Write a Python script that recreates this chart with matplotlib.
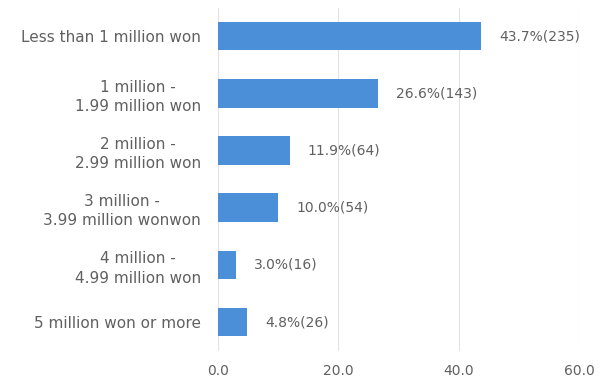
import matplotlib
matplotlib.use("Agg")
import matplotlib.pyplot as plt

categories = [
    "Less than 1 million won",
    "1 million -\n1.99 million won",
    "2 million -\n2.99 million won",
    "3 million -\n3.99 million wonwon",
    "4 million -\n4.99 million won",
    "5 million won or more",
]
percents = [43.7, 26.6, 11.9, 10.0, 3.0, 4.8]
counts = [235, 143, 64, 54, 16, 26]
xticks = [0, 20, 40, 60]

BAR_COLOR = "#4A8FD8"
TEXT_COLOR = "#606060"

fig = plt.figure(figsize=(6.07, 3.78), dpi=100)
ax = fig.add_axes([0.359, 0.0725, 0.595, 0.9075])

ypos = list(range(len(categories)))
ax.barh(ypos, percents, height=0.5, color=BAR_COLOR, zorder=3)

for y, p, c in zip(ypos, percents, counts):
    ax.text(p + 3.0, y, f"{p:.1f}%({c})", va="center", ha="left",
            fontsize=10, color=TEXT_COLOR)

ax.set_yticks(ypos)
ax.set_yticklabels(categories, fontsize=11, color=TEXT_COLOR,
                   multialignment="center", linespacing=1.35)
ax.set_ylim(len(categories) - 0.5, -0.5)
ax.set_xlim(0, 60)
ax.set_xticks(xticks)
ax.set_xticklabels([f"{v:.1f}" for v in xticks], fontsize=10, color=TEXT_COLOR)

ax.grid(axis="x", color="#e3e3e3", linewidth=0.8, zorder=0)
ax.tick_params(axis="both", length=0)
ax.tick_params(axis="y", pad=12)
ax.tick_params(axis="x", pad=10)
for s in ax.spines.values():
    s.set_visible(False)

fig.savefig("out.png", dpi=100)
